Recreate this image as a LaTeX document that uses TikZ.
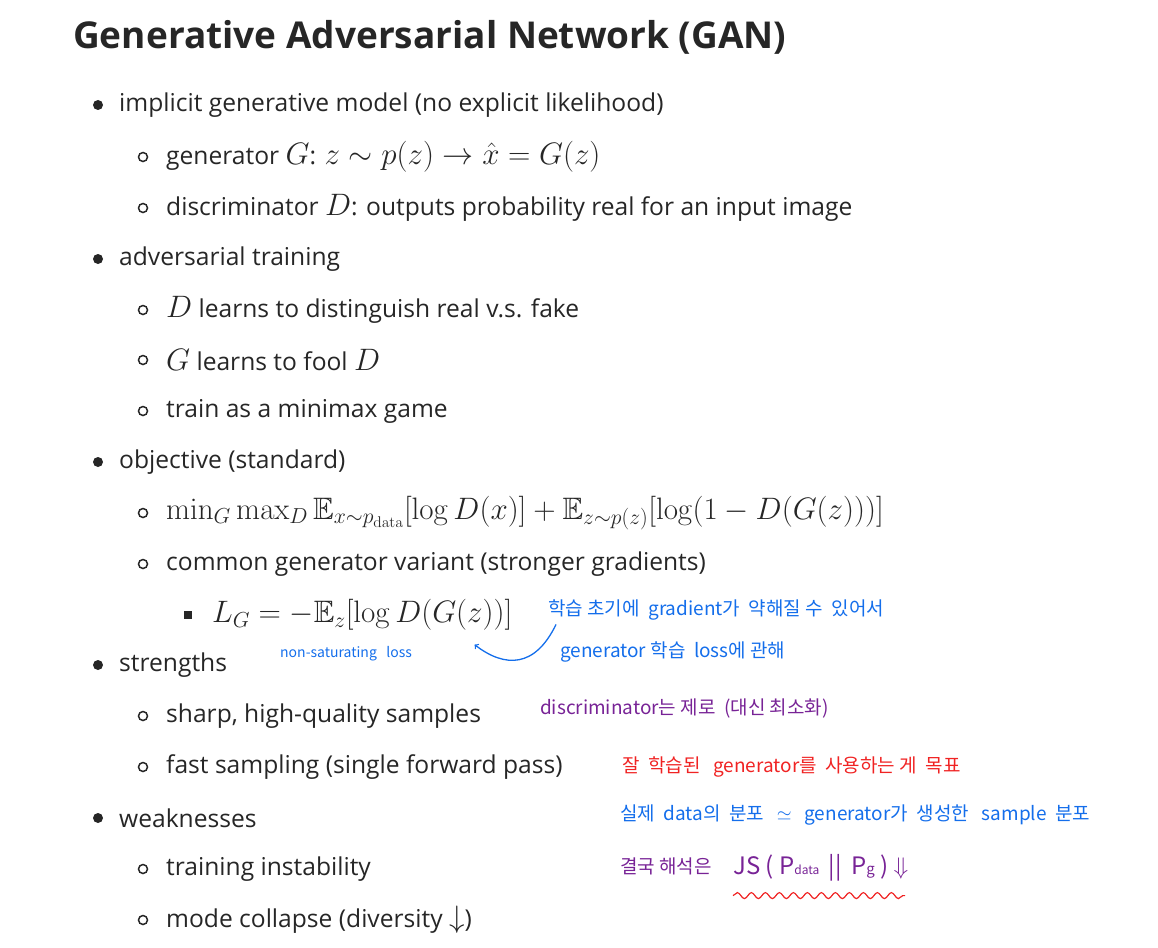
\documentclass[tikz,border=0pt]{standalone}
\usepackage{fix-cm}
\usepackage{amsmath,amssymb}
\usepackage[no-math]{fontspec}
\setmainfont{Open Sans}
\newfontfamily\hand{Noto Sans CJK KR}
\usetikzlibrary{decorations.pathmorphing}
\definecolor{penblue}{RGB}{20,110,235}
\definecolor{penred}{RGB}{240,35,35}
\definecolor{penpurple}{RGB}{120,35,150}
\tikzset{
  item/.style={anchor=west,inner sep=0pt,font=\fontsize{24.6}{28}\selectfont,text=black!85},
  dotb/.style={circle,fill=black!85,inner sep=0pt,minimum size=10pt},
  ringb/.style={circle,draw=black!85,line width=1.5pt,inner sep=0pt,minimum size=9pt},
  sqb/.style={fill=black!85,inner sep=0pt,minimum size=8pt},
  note/.style={anchor=west,inner sep=0pt,font=\hand\fontsize{19}{22}\selectfont}
}
\newcommand{\mth}[1]{{\fontsize{31}{34}\selectfont$#1$}}
\begin{document}
\begin{tikzpicture}[x=1pt,y=-1pt]
\useasboundingbox (0,0) rectangle (1158,947);
\node[anchor=west,inner sep=0pt,font=\bfseries\fontsize{37}{42}\selectfont,text=black!85] (title) at (73,37) {Generative Adversarial Network (GAN)};
% level 1
\foreach \y in {105,259,462,665,818} \node[dotb] at (98,\y) {};
% level 2
\foreach \y in {157,208,310,360,411,513,564,716,767,869,920} \node[ringb] at (143,\y) {};
\node[sqb] at (188,615) {};
\node[item] (l1) at (119,105) {implicit generative model (no explicit likelihood)};
\node[item] (l2) at (166,157) {generator \mth{G}: \mth{z\sim p(z)\rightarrow \hat{x}=G(z)}};
\node[item] (l3) at (166,208) {discriminator \mth{D}: outputs probability real for an input image};
\node[item] (l4) at (119,259) {adversarial training};
\node[item] (l5) at (166,310) {\mth{D} learns to distinguish real v.s. fake};
\node[item] (l6) at (166,360) {\mth{G} learns to fool \mth{D}};
\node[item] (l7) at (166,411) {train as a minimax game};
\node[item] (l8) at (119,462) {objective (standard)};
\node[item] (l9) at (166,513) {\mth{\min_G\max_D \mathbb{E}_{x\sim p_{\mathrm{data}}}[\log D(x)]+\mathbb{E}_{z\sim p(z)}[\log(1-D(G(z)))]}};
\node[item] (l10) at (166,564) {common generator variant (stronger gradients)};
\node[item] (lg) at (212,615) {\mth{L_G=-\mathbb{E}_z[\log D(G(z))]}};
\node[item] (l11) at (119,665) {strengths};
\node[item] (l12) at (166,716) {sharp, high-quality samples};
\node[item] (l13) at (166,767) {fast sampling (single forward pass)};
\node[item] (l14) at (119,818) {weaknesses};
\node[item] (l15) at (166,869) {training instability};
\node[item] (l16) at (166,920) {mode collapse (diversity \mth{\downarrow})};
% annotations
\node[note,text=penblue] (n1) at (548,610) {학습 초기에 \ gradient가 \ 약해질 수 \ 있어서};
\node[note,text=penblue] (n2) at (560,652) {generator 학습 \ loss에 관해};
\node[note,text=penblue,font=\hand\fontsize{14}{16}\selectfont] (ns) at (280,654) {non-saturating \ \ loss};
\draw[penblue,line width=1.3pt,->] ([shift={(8,4)}]n1.south west) .. controls (535,668) and (505,668) .. ([shift={(-38,14)}]lg.south east);
\node[note,text=penpurple] (n3) at (540,708) {discriminator는 제로 \ (대신 최소화)};
\node[note,text=penred] (n4) at (622,767) {잘 \ 학습된 \ \ generator를 \ 사용하는 게 \ 목표};
\node[note,text=penblue] (n5) at (620,815) {실제 \ data의 \ 분포 \ \ $\simeq$ \ \ generator가 \ 생성한 \ \ sample \ 분포};
\node[note,text=penpurple] (n6) at (620,866) {결국 해석은};
\node[note,text=penpurple,font=\hand\fontsize{24}{28}\selectfont] (js) at (733,868) {JS ( P{\fontsize{12}{12}\selectfont data} \,||\, P{\fontsize{15}{16}\selectfont g} ) $\Downarrow$};
\draw[penred,line width=1.2pt,decorate,decoration={snake,amplitude=3pt,segment length=14pt}] (js.south west) ++(0,14) -- ++(172,0);
\end{tikzpicture}
\end{document}
